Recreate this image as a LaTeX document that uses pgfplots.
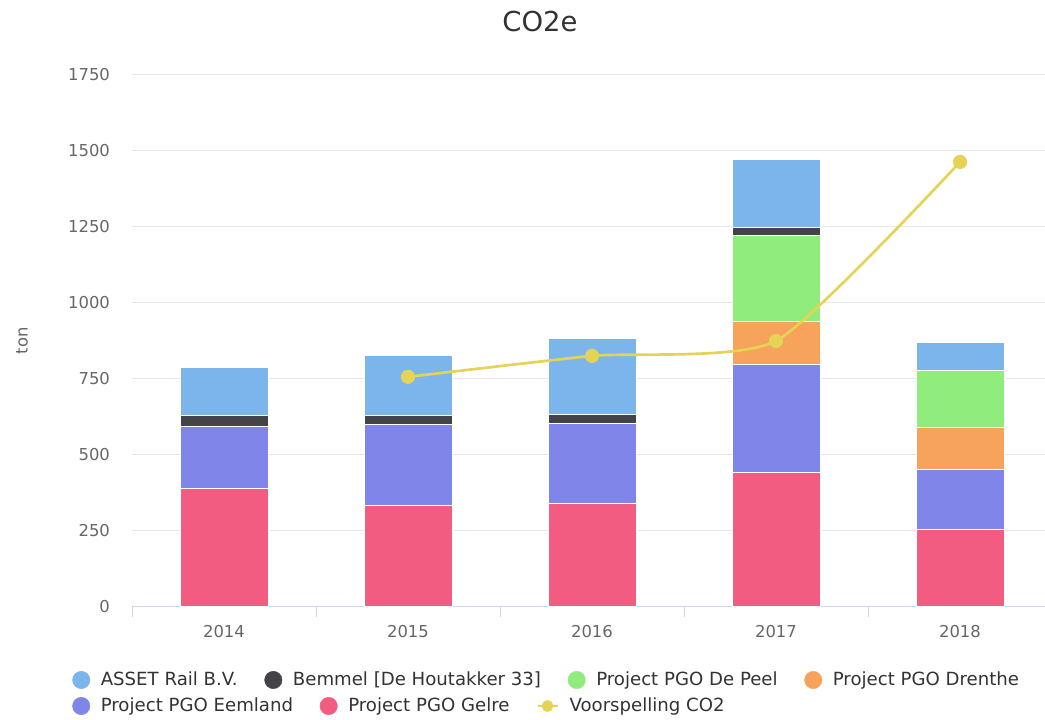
\documentclass[border=0pt]{standalone}
\usepackage{fontspec}
\setmainfont{DejaVu Sans}
\usepackage{pgfplots}
\pgfplotsset{compat=1.18}
\definecolor{cAsset}{HTML}{7CB5EC}
\definecolor{cBemmel}{HTML}{434348}
\definecolor{cPeel}{HTML}{90ED7D}
\definecolor{cDrenthe}{HTML}{F7A35C}
\definecolor{cEemland}{HTML}{8085E9}
\definecolor{cGelre}{HTML}{F15C80}
\definecolor{cLine}{HTML}{E4D354}
\definecolor{cText}{HTML}{333333}
\definecolor{cTick}{HTML}{666666}
\definecolor{cAxis}{HTML}{CCD6EB}
\definecolor{cGrid}{HTML}{E6E6E6}
\pgfplotsset{
  frame/.style={at={(99pt,84.75pt)}, anchor=south west, scale only axis,
    width=690pt, height=399pt, xmin=-0.5, xmax=4.5, ymin=0, ymax=1750},
  leg/.style={legend style={draw=none, fill=none, inner sep=0pt, anchor=west,
    font=\fontsize{13.6}{15}\selectfont, text=cText,
    nodes={inner sep=0pt, text depth=0.2em},
    /tikz/every odd column/.append style={column sep=8pt},
    /tikz/every even column/.append style={column sep=20pt}},
    legend cell align=left},
}
\newcommand{\dotimage}[1]{\addlegendimage{legend image code/.code={\fill[#1] (6.5pt,0pt) circle (6.5pt);}}}
\begin{document}
\begin{tikzpicture}
\path[use as bounding box] (0,0) rectangle (783.75pt,540pt);
\begin{axis}[
  frame,
  ybar stacked, bar width=66pt,
  axis x line=bottom, axis y line=left,
  x axis line style={draw=cAxis, line width=0.75pt, -},
  y axis line style={draw=none},
  xtick={0,1,2,3,4},
  xticklabels={2014,2015,2016,2017,2018},
  major x tick style={draw=none},
  minor xtick={-0.5,0.5,1.5,2.5,3.5,4.5},
  minor x tick style={draw=cAxis, line width=0.75pt},
  minor tick length=7.5pt, tick align=outside,
  ytick={0,250,...,1750},
  ytick style={draw=none},
  ymajorgrids, grid style={cGrid, line width=0.75pt},
  /pgf/number format/assume math mode=true,
  /pgf/number format/1000 sep={},
  ticklabel style={font=\fontsize{12.3}{14}\selectfont, text=cTick},
  xticklabel style={yshift=-6pt},
  yticklabel style={xshift=-8.75pt},
  title={CO2e},
  title style={at={(0.4435,1.0848)}, anchor=center, font=\fontsize{20.6}{24}\selectfont, text=cText},
  ylabel={ton},
  ylabel style={at={(-0.1196,0.5)}, anchor=center, font=\fontsize{12.3}{14}\selectfont, text=cTick},
  leg, legend columns=4,
  legend style={at={(-0.0652,-0.1372)}},
]
\dotimage{cAsset}\addlegendentry{ASSET Rail B.V.}
\dotimage{cBemmel}\addlegendentry{Bemmel [De Houtakker 33]}
\dotimage{cPeel}\addlegendentry{Project PGO De Peel}
\dotimage{cDrenthe}\addlegendentry{Project PGO Drenthe}
% stacked from the bottom up
\addplot[fill=cGelre, draw=white, line width=0.75pt] coordinates {(0,390) (1,334) (2,341) (3,443) (4,255)};
\addplot[fill=cEemland, draw=white, line width=0.75pt] coordinates {(0,204) (1,267) (2,263) (3,355) (4,198)};
\addplot[fill=cDrenthe, draw=white, line width=0.75pt] coordinates {(0,0) (1,0) (2,0) (3,141) (4,138)};
\addplot[fill=cPeel, draw=white, line width=0.75pt] coordinates {(0,0) (1,0) (2,0) (3,283) (4,187)};
\addplot[fill=cBemmel, draw=white, line width=0.75pt] coordinates {(0,36) (1,29) (2,30) (3,27) (4,0)};
\addplot[fill=cAsset, draw=white, line width=0.75pt] coordinates {(0,158) (1,198) (2,250) (3,223) (4,92)};
\end{axis}
\begin{axis}[
  frame, hide axis,
  leg, legend columns=3,
  legend style={at={(-0.0652,-0.1861)}},
]
\dotimage{cEemland}\addlegendentry{Project PGO Eemland}
\dotimage{cGelre}\addlegendentry{Project PGO Gelre}
\addlegendimage{legend image code/.code={\draw[cLine, line width=2pt] (0pt,0pt)--(15pt,0pt); \fill[cLine] (7.5pt,0pt) circle (4.2pt);}}
\addlegendentry{Voorspelling CO2}
\addplot[cLine, line width=2pt, smooth, tension=0.35, mark=*, mark size=4.3pt,
  mark options={fill=cLine, draw=none}] coordinates {(1,757) (2,826) (3,875) (4,1464)};
\end{axis}
\end{tikzpicture}
\end{document}
